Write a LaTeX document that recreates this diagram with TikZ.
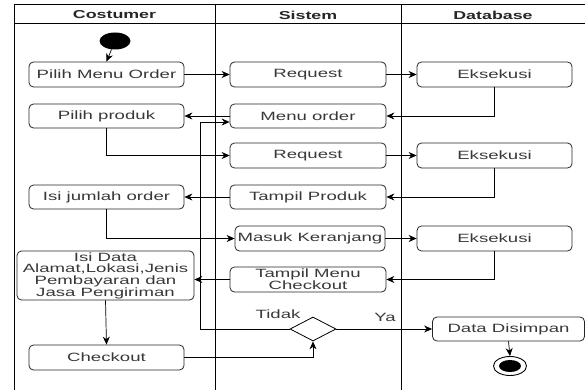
\documentclass[tikz,border=0pt]{standalone}
\usepackage{fontspec}
\setmainfont[FakeStretch=1.55]{Liberation Sans}
\usetikzlibrary{arrows.meta,shapes.geometric,calc}

\tikzset{
  lane/.style={line width=1pt, draw=black},
  act/.style={draw=black!85, line width=0.8pt, rounded corners=4.5pt, inner sep=0pt,
              minimum width=155pt, minimum height=25pt, align=center, text=black!78,
              font=\fontsize{12}{11.7}\selectfont},
  head/.style={inner sep=0pt, text=black!85, font=\fontsize{11.5}{12}\selectfont\bfseries},
  lbl/.style={inner sep=0pt, text=black!78, font=\fontsize{12}{12}\selectfont},
  flow/.style={draw=black, line width=0.7pt, -{Stealth[length=8pt,width=7pt]}},
  choice/.style={diamond, draw=black, line width=0.8pt, inner sep=0pt, fill=white,
                 minimum width=46pt, minimum height=24pt}
}

\begin{document}
\begin{tikzpicture}[x=1pt, y=-1pt]
  \useasboundingbox (0,0) rectangle (585,390);

  % swimlane frame
  \draw[lane] (14,5) -- (585,5);
  \draw[lane] (14,24) -- (585,24);
  \draw[lane] (14,5) -- (14,390);
  \draw[lane] (215,5) -- (215,390);
  \draw[lane] (401,5) -- (401,390);
  \node[head] (hc) at (114.5,15) {Costumer};
  \node[head] (hs) at (308,15) {Sistem};
  \node[head] (hd) at (493,15) {Database};

  % start and end markers
  \node[ellipse, fill=black, inner sep=0pt, minimum width=31pt, minimum height=17pt] (start) at (115,41) {};
  \node[ellipse, draw=black, line width=0.9pt, inner sep=0pt, minimum width=33pt, minimum height=19pt] (end) at (510,366) {};
  \node[ellipse, fill=black, inner sep=0pt, minimum width=22pt, minimum height=12pt] (endin) at (510,366) {};

  % Costumer lane
  \node[act] (pmo) at (106.5,74.5) {Pilih Menu Order};
  \node[act, minimum height=24pt] (pp) at (106.5,116) {Pilih produk};
  \node[act, minimum height=24pt] (ijo) at (106.5,197) {Isi jumlah order};
  \node[act, minimum width=177pt, minimum height=49pt] (isd) at (105.5,275.5)
       {Isi Data\\Alamat,Lokasi,Jenis\\Pembayaran dan\\Jasa Pengiriman};
  \node[act] (co) at (106.5,357.5) {Checkout};

  % Sistem lane
  \node[act, minimum width=156pt] (r1) at (308,74.5) {Request};
  \node[act, minimum width=156pt, minimum height=24pt] (mo) at (308,116) {Menu order};
  \node[act, minimum width=156pt] (r2) at (308,155.5) {Request};
  \node[act, minimum width=156pt, minimum height=24pt] (tp) at (308,197) {Tampil Produk};
  \node[act, minimum width=150pt] (mk) at (310,238.5) {Masuk Keranjang};
  \node[act, minimum width=156pt] (tmc) at (308,279.5) {Tampil Menu\\Checkout};
  \node[choice] (dm) at (313,329) {};
  \node[lbl] (tidak) at (278,314) {Tidak};
  \node[lbl] (ya) at (385,317) {Ya};

  % Database lane
  \node[act] (e1) at (494.5,74.5) {Eksekusi};
  \node[act] (e2) at (494.5,155.5) {Eksekusi};
  \node[act] (e3) at (494.5,238.5) {Eksekusi};
  \node[act, minimum width=152pt, minimum height=24pt] (dd) at (508.5,329) {Data Disimpan};

  % flow
  \draw[flow] (start) -- (pmo.north);
  \draw[flow] (pmo.east) -- (r1.west);
  \draw[flow] (r1.east) -- (e1.west);
  \draw[flow] (e1.south) |- (mo.east);
  \draw[flow] (mo.west) -- (pp.east);
  \draw[flow] (pp.south) |- (r2.west);
  \draw[flow] (r2.east) -- (e2.west);
  \draw[flow] (e2.south) |- (tp.east);
  \draw[flow] (tp.west) -- (ijo.east);
  \draw[flow] (ijo.south) |- (mk.west);
  \draw[flow] (mk.east) -- (e3.west);
  \draw[flow] (e3.south) |- (tmc.east);
  \draw[flow] (tmc.west) -- (tmc.west -| isd.east);
  \draw[flow] (isd.south) -- (co.north);
  \draw[flow] (co.east) -| (dm.south);
  \coordinate (back) at (200,122);
  \draw[flow] (dm.west) -| (back) -- (back -| mo.west);
  \draw[flow] (dm.east) -- (dd.west);
  \draw[flow] (dd.south) -- (end.north);
\end{tikzpicture}
\end{document}
